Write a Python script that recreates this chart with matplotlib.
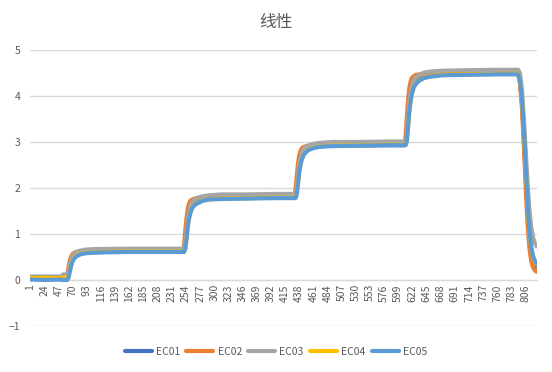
import matplotlib
matplotlib.use("Agg")
import matplotlib.pyplot as plt

plt.rcParams['font.family'] = ['Noto Sans CJK SC', 'DejaVu Sans']

# sample index (category number) shared by all series
idx = [1, 25, 50, 52, 54,
       59, 61, 63, 65, 67, 69, 71, 74, 78, 83, 91, 101, 121, 161, 211,
       249, 251, 253, 255, 257, 259, 261, 264, 268, 273, 281, 291, 311, 351, 401,
       430, 432, 434, 436, 438, 440, 442, 445, 449, 454, 462, 472, 492, 532, 582,
       609, 611, 613, 615, 617, 619, 621, 624, 628, 633, 641, 651, 671, 711, 761,
       794, 797, 800, 803, 806, 809, 812, 815, 818, 821, 824]

ec01 = [0.07, 0.07, 0.07, 0.07, 0.07,
        0.07, 0.08, 0.15, 0.29, 0.40, 0.47, 0.51, 0.55, 0.57, 0.59, 0.60, 0.61, 0.615, 0.62, 0.62,
        0.62, 0.64, 0.80, 1.09, 1.32, 1.46, 1.56, 1.64, 1.68, 1.72, 1.74, 1.76, 1.78, 1.78, 1.79,
        1.79, 1.81, 1.96, 2.25, 2.47, 2.61, 2.70, 2.78, 2.83, 2.86, 2.88, 2.90, 2.92, 2.92, 2.93,
        2.93, 2.96, 3.16, 3.55, 3.87, 4.05, 4.18, 4.29, 4.35, 4.40, 4.43, 4.45, 4.47, 4.48, 4.49,
        4.49, 4.30, 3.88, 3.15, 2.35, 1.55, 0.95, 0.60, 0.42, 0.33, 0.29]

ec02 = [0.04, 0.05, 0.04, 0.04, 0.05,
        0.04, 0.11, 0.26, 0.41, 0.50, 0.55, 0.58, 0.60, 0.61, 0.615, 0.62, 0.62, 0.625, 0.63, 0.63,
        0.63, 0.77, 1.08, 1.36, 1.55, 1.66, 1.72, 1.75, 1.77, 1.78, 1.79, 1.79, 1.80, 1.80, 1.81,
        1.81, 1.95, 2.24, 2.52, 2.70, 2.80, 2.86, 2.89, 2.91, 2.92, 2.93, 2.93, 2.94, 2.94, 2.95,
        2.95, 3.14, 3.54, 3.92, 4.17, 4.31, 4.39, 4.43, 4.46, 4.47, 4.48, 4.49, 4.50, 4.50, 4.51,
        4.51, 4.25, 3.75, 2.95, 2.05, 1.25, 0.72, 0.42, 0.28, 0.21, 0.18]

ec03 = [0.05, 0.05, 0.05, 0.05, 0.12,
        0.12, 0.13, 0.18, 0.30, 0.43, 0.50, 0.55, 0.60, 0.62, 0.64, 0.66, 0.67, 0.675, 0.68, 0.68,
        0.68, 0.69, 0.80, 1.07, 1.33, 1.49, 1.60, 1.69, 1.75, 1.79, 1.82, 1.84, 1.86, 1.86, 1.87,
        1.87, 1.88, 1.98, 2.25, 2.50, 2.65, 2.75, 2.84, 2.90, 2.93, 2.96, 2.98, 3.00, 3.00, 3.01,
        3.01, 3.03, 3.17, 3.52, 3.87, 4.07, 4.21, 4.34, 4.41, 4.46, 4.51, 4.53, 4.55, 4.56, 4.57,
        4.57, 4.48, 4.15, 3.55, 2.85, 2.15, 1.55, 1.15, 0.92, 0.80, 0.73]

ec04 = [0.05, 0.05, 0.05, 0.05, 0.05,
        0.05, 0.05, 0.08, 0.20, 0.32, 0.40, 0.46, 0.51, 0.55, 0.57, 0.59, 0.60, 0.61, 0.62, 0.62,
        0.62, 0.62, 0.69, 0.92, 1.18, 1.35, 1.46, 1.57, 1.64, 1.68, 1.73, 1.75, 1.77, 1.78, 1.79,
        1.79, 1.79, 1.86, 2.09, 2.34, 2.50, 2.62, 2.72, 2.79, 2.84, 2.88, 2.91, 2.92, 2.93, 2.94,
        2.94, 2.94, 3.03, 3.34, 3.68, 3.89, 4.05, 4.19, 4.28, 4.34, 4.40, 4.43, 4.46, 4.47, 4.48,
        4.48, 4.33, 3.94, 3.28, 2.52, 1.72, 1.07, 0.70, 0.50, 0.40, 0.34]

ec05 = [0.01, 0.0, 0.01, 0.0, 0.0,
        0.0, 0.0, 0.04, 0.16, 0.29, 0.38, 0.44, 0.49, 0.53, 0.56, 0.58, 0.59, 0.60, 0.61, 0.61,
        0.61, 0.61, 0.68, 0.91, 1.17, 1.34, 1.45, 1.56, 1.63, 1.67, 1.72, 1.75, 1.76, 1.77, 1.78,
        1.78, 1.78, 1.85, 2.08, 2.33, 2.49, 2.61, 2.71, 2.78, 2.83, 2.87, 2.90, 2.91, 2.92, 2.93,
        2.93, 2.93, 3.02, 3.33, 3.67, 3.88, 4.04, 4.18, 4.27, 4.33, 4.39, 4.42, 4.45, 4.46, 4.47,
        4.47, 4.33, 3.95, 3.30, 2.55, 1.75, 1.10, 0.72, 0.52, 0.42, 0.36]

names = ['EC01', 'EC02', 'EC03', 'EC04', 'EC05']
colors = ['#4472C4', '#ED7D31', '#A5A5A5', '#FFC000', '#5B9BD5']
n_cat = 824
xtick_pos = list(range(1, n_cat + 1, 23))

txt = '#595959'
grid_c = '#D9D9D9'

fig = plt.figure(figsize=(5.52, 3.72), dpi=100)
ax = fig.add_axes([0.0543, 0.1237, 0.9185, 0.7419])

for ys, c, nm in zip([ec01, ec02, ec03, ec04, ec05], colors, names):
    ax.plot(idx, ys, color=c, linewidth=3.0, label=nm, solid_capstyle='round')

ax.set_xlim(0.5, n_cat + 0.5)
ax.set_ylim(-1, 5)
ax.set_yticks(range(-1, 6))
ax.grid(axis='y', color=grid_c, linewidth=1)
ax.set_axisbelow(True)
for s in ['top', 'right', 'left']:
    ax.spines[s].set_visible(False)
ax.spines['bottom'].set_position(('data', 0))
ax.spines['bottom'].set_color(grid_c)
ax.spines['bottom'].set_zorder(0)

ax.set_xticks(xtick_pos)
ax.set_xticklabels([str(v) for v in xtick_pos], rotation=90)
ax.tick_params(axis='both', length=0, colors=txt, labelsize=7.5)
ax.tick_params(axis='x', pad=3)
ax.tick_params(axis='y', pad=7)

fig.text(0.5, 0.94, '线性', ha='center', va='center', fontsize=12, color=txt)

leg = fig.legend(loc='center', bbox_to_anchor=(0.5, 0.054), ncol=5, frameon=False,
                 fontsize=7.5, handlelength=2.6, columnspacing=0.6, handletextpad=0.4)
for t in leg.get_texts():
    t.set_color(txt)

fig.savefig('out.png', dpi=100)
